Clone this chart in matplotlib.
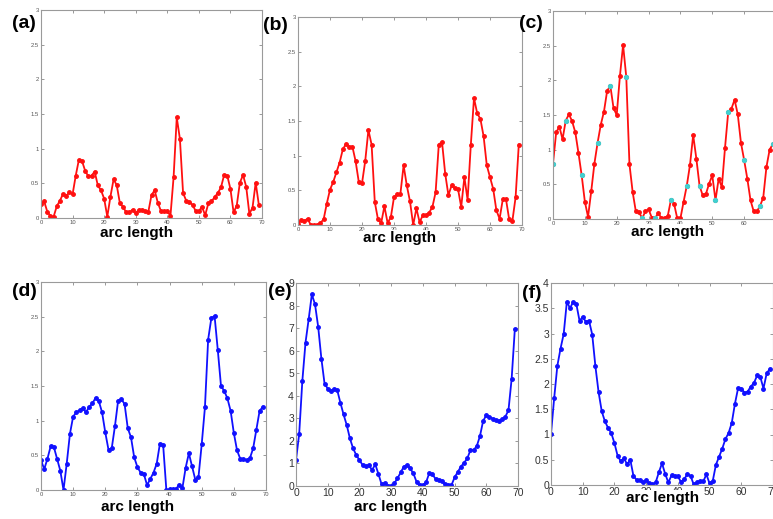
import matplotlib
matplotlib.use("Agg")
import matplotlib.pyplot as plt
from matplotlib.ticker import FuncFormatter, MultipleLocator

W, H = 773, 519

arc = list(range(70))

series_a = [0.20, 0.24, 0.09, 0.03, 0.02, 0.17, 0.25, 0.35, 0.32, 0.37,
            0.34, 0.61, 0.84, 0.82, 0.68, 0.60, 0.61, 0.67, 0.47, 0.40,
            0.28, 0.02, 0.31, 0.56, 0.47, 0.21, 0.16, 0.08, 0.08, 0.12,
            0.07, 0.12, 0.12, 0.10, 0.09, 0.33, 0.40, 0.22, 0.10, 0.10,
            0.10, 0.03, 0.59, 1.45, 1.14, 0.36, 0.25, 0.23, 0.19, 0.10,
            0.10, 0.16, 0.04, 0.21, 0.24, 0.30, 0.36, 0.44, 0.62, 0.61,
            0.42, 0.08, 0.18, 0.51, 0.62, 0.45, 0.06, 0.15, 0.51, 0.19]

series_b = [0.02, 0.07, 0.06, 0.09, 0.00, 0.00, 0.00, 0.03, 0.08, 0.31,
            0.51, 0.62, 0.76, 0.90, 1.09, 1.17, 1.13, 1.13, 0.92, 0.62,
            0.60, 0.92, 1.37, 1.16, 0.33, 0.08, 0.03, 0.27, 0.03, 0.11,
            0.40, 0.44, 0.45, 0.86, 0.57, 0.34, 0.00, 0.24, 0.04, 0.14,
            0.14, 0.18, 0.26, 0.47, 1.16, 1.20, 0.74, 0.43, 0.57, 0.53,
            0.52, 0.26, 0.69, 0.36, 1.15, 1.83, 1.61, 1.53, 1.28, 0.86,
            0.69, 0.52, 0.21, 0.09, 0.37, 0.37, 0.08, 0.06, 0.40, 1.16]

series_c = [0.80, 1.25, 1.33, 1.15, 1.42, 1.51, 1.41, 1.25, 0.95, 0.63,
            0.25, 0.03, 0.40, 0.80, 1.10, 1.36, 1.55, 1.85, 1.92, 1.60,
            1.50, 2.06, 2.51, 2.05, 0.79, 0.39, 0.11, 0.10, 0.01, 0.11,
            0.14, 0.02, 0.01, 0.08, 0.02, 0.02, 0.04, 0.27, 0.22, 0.01,
            0.01, 0.25, 0.48, 0.78, 1.21, 0.87, 0.48, 0.34, 0.36, 0.51,
            0.63, 0.27, 0.58, 0.46, 1.03, 1.54, 1.59, 1.72, 1.51, 1.10,
            0.85, 0.58, 0.27, 0.11, 0.11, 0.19, 0.31, 0.75, 1.00, 1.08]
highlight_c = [0, 4, 9, 14, 18, 23, 28, 32, 37, 42, 46, 51, 55, 60, 65, 69]

series_d = [0.43, 0.30, 0.45, 0.63, 0.62, 0.45, 0.28, 0.00, 0.38, 0.81,
            1.06, 1.12, 1.15, 1.18, 1.12, 1.20, 1.25, 1.33, 1.28, 1.12,
            0.83, 0.58, 0.60, 0.92, 1.29, 1.31, 1.24, 0.89, 0.76, 0.47,
            0.33, 0.25, 0.23, 0.07, 0.16, 0.25, 0.38, 0.67, 0.65, 0.00,
            0.01, 0.01, 0.02, 0.07, 0.03, 0.32, 0.53, 0.34, 0.15, 0.19,
            0.66, 1.19, 2.17, 2.48, 2.51, 2.02, 1.50, 1.43, 1.32, 1.14,
            0.82, 0.57, 0.45, 0.45, 0.43, 0.46, 0.60, 0.87, 1.14, 1.20]

series_e = [1.15, 2.30, 4.66, 6.36, 7.40, 8.50, 8.05, 7.05, 5.65, 4.54,
            4.32, 4.20, 4.31, 4.25, 3.69, 3.17, 2.70, 2.11, 1.67, 1.37,
            1.15, 0.93, 0.88, 0.91, 0.71, 0.96, 0.53, 0.07, 0.12, 0.00,
            0.01, 0.12, 0.34, 0.60, 0.86, 0.93, 0.78, 0.56, 0.19, 0.04,
            0.03, 0.16, 0.56, 0.53, 0.31, 0.27, 0.22, 0.09, 0.04, 0.03,
            0.38, 0.62, 0.86, 1.03, 1.22, 1.59, 1.59, 1.77, 2.21, 2.88,
            3.14, 3.07, 2.99, 2.92, 2.89, 2.95, 3.07, 3.36, 4.76, 6.95]

series_f = [1.01, 1.72, 2.36, 2.70, 2.99, 3.63, 3.50, 3.63, 3.58, 3.25,
            3.33, 3.23, 3.25, 2.98, 2.35, 1.84, 1.46, 1.26, 1.13, 1.03,
            0.83, 0.58, 0.47, 0.53, 0.41, 0.50, 0.18, 0.10, 0.09, 0.05,
            0.09, 0.03, 0.02, 0.05, 0.25, 0.43, 0.22, 0.05, 0.19, 0.17,
            0.17, 0.06, 0.11, 0.22, 0.18, 0.01, 0.05, 0.07, 0.07, 0.21,
            0.03, 0.08, 0.40, 0.56, 0.72, 0.91, 1.03, 1.23, 1.61, 1.92,
            1.91, 1.83, 1.85, 1.95, 2.02, 2.17, 2.14, 1.91, 2.21, 2.30]

panel_labels = ["(a)", "(b)", "(c)", "(d)", "(e)", "(f)"]
xlabel_text = "arc length"
x_ticks = [0, 10, 20, 30, 40, 50, 60, 70]

RED = "#ff1010"
BLUE = "#1010ff"
CYAN = "#40d0d0"

fig = plt.figure(figsize=(W / 100, H / 100), dpi=100)
plt.rcParams["font.family"] = ["Liberation Sans", "DejaVu Sans"]


def add_axes(left, right, top, bottom):
    return fig.add_axes([left / W, 1 - bottom / H, (right - left) / W, (bottom - top) / H])


def fmt(v, pos):
    return "%g" % v


panels = [
    # data, color, ymax, ystep, box(l, r, t, b), tick fontsize, label pos, xlabel pos
    (series_a, RED, 3, 0.5, (41, 262, 10, 218), 4.2, (23.5, 24), (137, 233)),
    (series_b, RED, 3, 0.5, (298, 522, 17, 225), 4.2, (275, 25), (400, 238)),
    (series_c, RED, 3, 0.5, (553, 776, 11, 219), 4.2, (531, 24), (668, 232)),
    (series_d, BLUE, 3, 0.5, (41, 266, 282, 490), 4.2, (24, 292), (138, 507)),
    (series_e, BLUE, 9, 1, (296, 518, 283, 486), 7.5, (280, 292), (391, 507)),
    (series_f, BLUE, 4, 0.5, (551, 773, 283, 485), 7.5, (532, 294), (663, 498)),
]

for i, (data, color, ymax, ystep, box, tfs, lpos, xlpos) in enumerate(panels):
    ax = add_axes(*box)
    ax.plot(arc, data, color=color, lw=1.3, marker="o", ms=2.5, mec=color, mfc=color)
    if i == 2:
        ax.plot([arc[k] for k in highlight_c], [data[k] for k in highlight_c],
                ls="none", marker="o", ms=2.8, color=CYAN)
    ax.set_xlim(0, 70)
    ax.set_ylim(0, ymax)
    ax.set_xticks(x_ticks)
    ax.yaxis.set_major_locator(MultipleLocator(ystep))
    ax.xaxis.set_major_formatter(FuncFormatter(fmt))
    ax.yaxis.set_major_formatter(FuncFormatter(fmt))
    tcol = "#555555" if tfs < 5 else "#333333"
    ax.tick_params(direction="in", top=True, right=True, length=2.5, width=0.6,
                   colors="#888888", labelcolor=tcol, labelsize=tfs, pad=1.5)
    for s in ax.spines.values():
        s.set_color("#9a9a9a")
        s.set_linewidth(0.8)
    fig.text(lpos[0] / W, 1 - lpos[1] / H, panel_labels[i], fontsize=14,
             fontweight="bold", ha="center", va="center")
    fig.text(xlpos[0] / W, 1 - xlpos[1] / H, xlabel_text, fontsize=11,
             fontweight="bold", ha="center", va="center", zorder=10,
             bbox=dict(boxstyle="square,pad=0.05", fc="white", ec="none"))

fig.savefig("out.png", dpi=100)
